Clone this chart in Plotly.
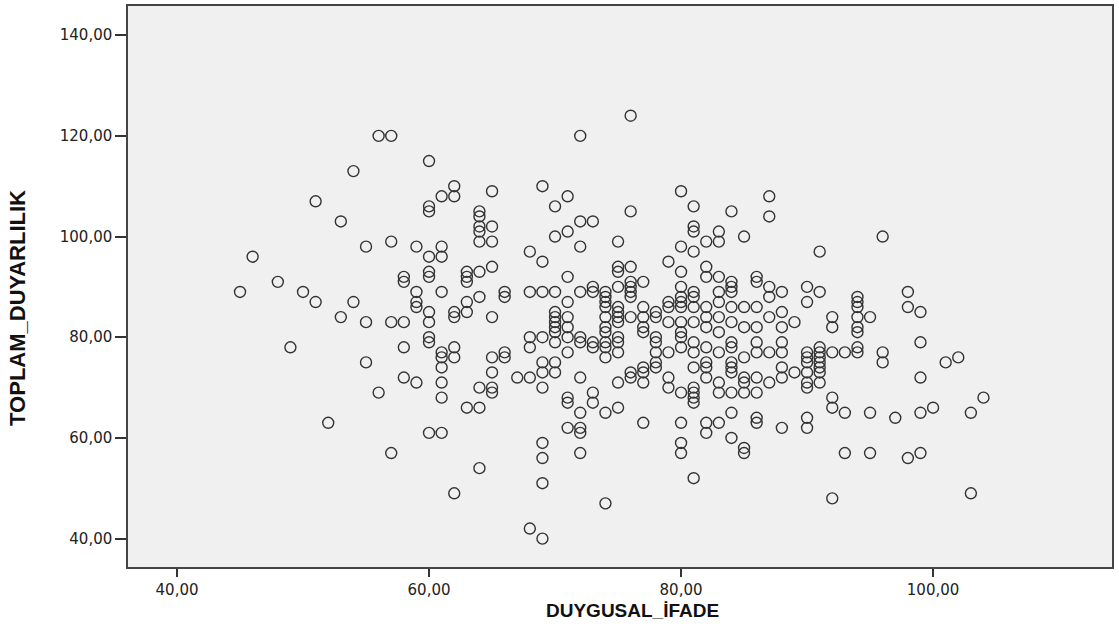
import plotly.graph_objects as go

# DUYGUSAL_İFADE (x) values, grouped by x value
duygusal_ifade = (
    [45, 46, 48, 49, 50, 51, 51, 52, 53, 53, 54, 54, 55, 55, 55, 56, 56, 57, 57, 57, 57,
     58, 58, 58, 58, 58, 59, 59, 59, 59, 59]
    + [60] * 11 + [61] * 10 + [62] * 7 + [63] * 6 + [64] * 10 + [65] * 9 + [66] * 4
    + [67] * 1 + [68] * 6 + [69] * 11 + [70] * 11 + [71] * 11 + [72] * 11 + [73] * 7
    + [74] * 12 + [75] * 13 + [76] * 10 + [77] * 9 + [78] * 7 + [79] * 7 + [80] * 15
    + [81] * 16 + [82] * 12 + [83] * 11 + [84] * 14 + [85] * 9 + [86] * 10 + [87] * 7
    + [88] * 8 + [89] * 2 + [90] * 10 + [91] * 9 + [92] * 6 + [93] * 3 + [94] * 8
    + [95] * 3 + [96] * 3 + [97] * 1 + [98] * 3 + [99] * 5 + [100] * 1 + [101] * 1
    + [102] * 1 + [103] * 2 + [104] * 1
)

# TOPLAM_DUYARLILIK (y) values, in the same order
toplam_duyarlilik = (
    [89, 96, 91, 78, 89, 107, 87, 63, 84, 103, 113, 87, 98, 83, 75, 120, 69, 120, 99, 83, 57,
     92, 91, 83, 78, 72, 98, 89, 87, 86, 71]
    + [115, 106, 105, 96, 93, 92, 85, 83, 80, 79, 61]
    + [108, 98, 96, 89, 77, 76, 74, 71, 68, 61]
    + [110, 108, 85, 84, 78, 76, 49]
    + [93, 92, 91, 87, 85, 66]
    + [105, 104, 102, 101, 99, 93, 88, 70, 66, 54]
    + [109, 102, 99, 94, 84, 76, 73, 70, 69]
    + [89, 88, 77, 76]
    + [72]
    + [97, 89, 80, 78, 72, 42]
    + [110, 95, 89, 80, 75, 73, 70, 59, 56, 51, 40]
    + [106, 100, 89, 85, 84, 83, 82, 81, 79, 75, 73]
    + [108, 101, 92, 87, 84, 82, 80, 77, 68, 67, 62]
    + [120, 103, 98, 89, 80, 79, 72, 65, 62, 61, 57]
    + [103, 90, 89, 79, 78, 69, 67]
    + [89, 88, 87, 86, 84, 82, 81, 79, 78, 76, 65, 47]
    + [99, 94, 93, 90, 86, 85, 84, 83, 80, 79, 77, 71, 66]
    + [124, 105, 94, 91, 90, 89, 88, 84, 73, 72]
    + [91, 86, 84, 82, 81, 74, 73, 71, 63]
    + [85, 84, 80, 79, 77, 75, 74]
    + [95, 87, 86, 83, 77, 72, 70]
    + [109, 98, 93, 90, 88, 87, 86, 83, 81, 80, 78, 69, 63, 59, 57]
    + [106, 102, 101, 97, 89, 88, 86, 83, 79, 77, 74, 70, 69, 68, 67, 52]
    + [99, 94, 92, 86, 84, 82, 78, 75, 74, 72, 63, 61]
    + [101, 99, 92, 89, 87, 84, 81, 77, 71, 69, 63]
    + [105, 91, 90, 89, 86, 83, 79, 78, 75, 74, 73, 69, 65, 60]
    + [100, 86, 82, 76, 72, 71, 69, 58, 57]
    + [92, 91, 86, 82, 79, 77, 72, 69, 64, 63]
    + [108, 104, 90, 88, 84, 77, 71]
    + [89, 85, 82, 79, 77, 74, 72, 62]
    + [83, 73]
    + [90, 87, 77, 76, 75, 73, 71, 70, 64, 62]
    + [97, 89, 78, 77, 76, 75, 74, 73, 71]
    + [84, 82, 77, 68, 66, 48]
    + [77, 65, 57]
    + [88, 87, 86, 84, 82, 81, 78, 77]
    + [84, 65, 57]
    + [100, 77, 75]
    + [64]
    + [89, 86, 56]
    + [85, 79, 72, 65, 57]
    + [66]
    + [75]
    + [76]
    + [65, 49]
    + [68]
)

x_ticks = [40, 60, 80, 100]
x_tick_labels = ["40,00", "60,00", "80,00", "100,00"]
y_ticks = [40, 60, 80, 100, 120, 140]
y_tick_labels = ["40,00", "60,00", "80,00", "100,00", "120,00", "140,00"]

n = min(len(duygusal_ifade), len(toplam_duyarlilik))

fig = go.Figure(
    go.Scatter(
        x=duygusal_ifade[:n],
        y=toplam_duyarlilik[:n],
        mode="markers",
        marker=dict(symbol="circle-open", size=11, color="#333333",
                    line=dict(width=1.4, color="#333333")),
        hoverinfo="x+y",
    )
)

tick_font = dict(family="DejaVu Sans", size=15, color="#222222")

fig.update_layout(
    width=1119,
    height=632,
    margin=dict(l=128, r=7, t=4, b=65),
    paper_bgcolor="white",
    plot_bgcolor="#F0F0F0",
    showlegend=False,
    xaxis=dict(
        range=[36.11, 114.2],
        tickvals=x_ticks,
        ticktext=x_tick_labels,
        ticks="outside",
        ticklen=8,
        tickwidth=1.5,
        tickcolor="#333333",
        showgrid=False,
        zeroline=False,
        showline=True,
        linecolor="#444444",
        linewidth=1.5,
        mirror=True,
        tickfont=tick_font,
    ),
    yaxis=dict(
        range=[34.36, 145.8],
        tickvals=y_ticks,
        ticktext=y_tick_labels,
        ticks="outside",
        ticklen=11,
        tickwidth=1.5,
        tickcolor="#333333",
        showgrid=False,
        zeroline=False,
        showline=True,
        linecolor="#444444",
        linewidth=1.5,
        mirror=True,
        tickfont=tick_font,
    ),
    annotations=[
        dict(text="<b>DUYGUSAL_İFADE</b>", xref="paper", yref="paper",
             x=(632 - 128) / 984, y=(567 - 611) / 563, xanchor="center", yanchor="middle",
             showarrow=False, font=dict(family="Liberation Sans", size=19, color="#111111")),
        dict(text="<b>TOPLAM_DUYARLILIK</b>", xref="paper", yref="paper",
             x=(18 - 128) / 984, y=(567 - 307) / 563, xanchor="center", yanchor="middle",
             textangle=-90, showarrow=False,
             font=dict(family="Liberation Sans", size=22, color="#111111")),
    ],
)

fig.write_html(
    "out.html",
    config={"displayModeBar": False},
    post_script="document.body.style.margin='0';document.body.style.padding='0';",
)
